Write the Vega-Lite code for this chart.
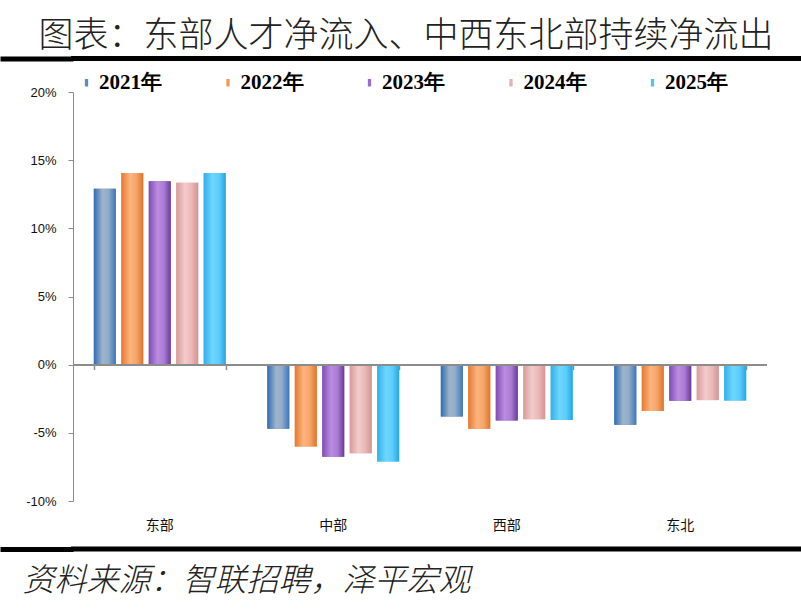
{
  "$schema": "https://vega.github.io/schema/vega-lite/v6.json",
  "padding": {"top": 18, "left": -5, "right": 0, "bottom": 0},
  "background": "white",
  "title": {
    "text": "图表：东部人才净流入、中西东北部持续净流出",
    "font": "Noto Sans CJK SC",
    "fontSize": 35,
    "fontWeight": 300,
    "color": "#222222",
    "anchor": "start",
    "dx": 43,
    "offset": 0
  },
  "columns": 1,
  "spacing": 11.5,
  "align": "none",
  "concat": [
    {
      "columns": 1,
      "spacing": 22,
      "align": "none",
      "concat": [
        {
          "width": 728,
          "height": 1,
          "data": {"values": [{"v": 0.5}]},
          "mark": {"type": "point", "opacity": 0},
          "encoding": {
            "y": {
              "field": "v",
              "type": "quantitative",
              "scale": {"domain": [0, 1]},
              "axis": {
                "title": null,
                "values": [0.5],
                "labels": false,
                "domain": false,
                "grid": false,
                "tickSize": 73,
                "tickWidth": 5,
                "tickColor": "black",
                "tickRound": false,
                "minExtent": 73,
                "maxExtent": 73
              }
            }
          },
          "view": {"fill": "black", "stroke": "black", "strokeWidth": 4}
        },
        {
          "width": 694,
          "height": 409,
          "data": {
            "values": [
              {"region": "东部", "year": "2021年", "value": 12.9},
              {"region": "东部", "year": "2022年", "value": 14.05},
              {"region": "东部", "year": "2023年", "value": 13.45},
              {"region": "东部", "year": "2024年", "value": 13.35},
              {"region": "东部", "year": "2025年", "value": 14.05},
              {"region": "中部", "year": "2021年", "value": -4.7},
              {"region": "中部", "year": "2022年", "value": -6.0},
              {"region": "中部", "year": "2023年", "value": -6.75},
              {"region": "中部", "year": "2024年", "value": -6.5},
              {"region": "中部", "year": "2025年", "value": -7.1},
              {"region": "西部", "year": "2021年", "value": -3.8},
              {"region": "西部", "year": "2022年", "value": -4.7},
              {"region": "西部", "year": "2023年", "value": -4.1},
              {"region": "西部", "year": "2024年", "value": -4.0},
              {"region": "西部", "year": "2025年", "value": -4.05},
              {"region": "东北", "year": "2021年", "value": -4.4},
              {"region": "东北", "year": "2022年", "value": -3.4},
              {"region": "东北", "year": "2023年", "value": -2.65},
              {"region": "东北", "year": "2024年", "value": -2.6},
              {"region": "东北", "year": "2025年", "value": -2.63}
            ]
          },
          "view": {"stroke": null},
          "layer": [
            {
              "encoding": {
                "x": {
                  "field": "region",
                  "type": "nominal",
                  "sort": ["东部", "中部", "西部", "东北"],
                  "scale": {"paddingInner": 0.24, "paddingOuter": 0.12},
                  "axis": {
                    "title": null,
                    "orient": "bottom",
                    "domain": false,
                    "ticks": false,
                    "labelAngle": 0,
                    "labelPadding": 17,
                    "labelFont": "Noto Sans CJK SC",
                    "labelFontSize": 14,
                    "labelColor": "#111111"
                  }
                },
                "xOffset": {
                  "field": "year",
                  "type": "nominal",
                  "scale": {
                    "domain": ["2021年", "2022年", "2023年", "2024年", "2025年"],
                    "paddingInner": 0.2,
                    "paddingOuter": 0
                  }
                },
                "y": {
                  "field": "value",
                  "type": "quantitative",
                  "scale": {"domain": [-10, 20], "nice": false, "zero": false},
                  "axis": {
                    "title": null,
                    "values": [-10, -5, 0, 5, 10, 15, 20],
                    "labelExpr": "datum.value + '%'",
                    "grid": false,
                    "domainColor": "#8c8c8c",
                    "tickColor": "#8c8c8c",
                    "tickSize": 5,
                    "labelPadding": 12,
                    "minExtent": 73,
                    "maxExtent": 73,
                    "labelFont": "Liberation Sans",
                    "labelFontSize": 13,
                    "labelColor": "#111111"
                  }
                }
              },
              "layer": [
                {
                  "mark": {"type": "bar"},
                  "encoding": {
                    "color": {
                      "field": "year",
                      "type": "nominal",
                      "scale": {
                        "domain": ["2021年", "2022年", "2023年", "2024年", "2025年"],
                        "range": ["#5b8cc4", "#f29a55", "#9b6cc9", "#e6b2b1", "#4cc4f4"]
                      },
                      "legend": {
                        "title": null,
                        "orient": "none",
                        "legendX": 3,
                        "legendY": 14,
                        "direction": "horizontal",
                        "columns": 5,
                        "columnPadding": 55.5,
                        "symbolType": "M-0.22,-0.5H0.22V0.5H-0.22Z",
                        "symbolSize": 225,
                        "symbolStrokeWidth": 0,
                        "symbolOpacity": 1,
                        "labelOffset": 2,
                        "labelFont": "Liberation Serif",
                        "labelFontWeight": "bold",
                        "labelFontSize": 21,
                        "labelColor": "#000000"
                      }
                    }
                  }
                },
                {
                  "transform": [{"filter": "datum.year == '2021年'"}],
                  "mark": {"type": "bar", "color": {"gradient": "linear", "x1": 0, "y1": 0, "x2": 1, "y2": 0, "stops": [
                    {"offset": 0, "color": "#2f6cb3"}, {"offset": 0.4, "color": "#9fb4c9"},
                    {"offset": 0.65, "color": "#93adc9"}, {"offset": 1, "color": "#3c76bb"}]}}
                },
                {
                  "transform": [{"filter": "datum.year == '2022年'"}],
                  "mark": {"type": "bar", "color": {"gradient": "linear", "x1": 0, "y1": 0, "x2": 1, "y2": 0, "stops": [
                    {"offset": 0, "color": "#e6782e"}, {"offset": 0.4, "color": "#fbb57f"},
                    {"offset": 0.7, "color": "#f5a468"}, {"offset": 1, "color": "#de7429"}]}}
                },
                {
                  "transform": [{"filter": "datum.year == '2023年'"}],
                  "mark": {"type": "bar", "color": {"gradient": "linear", "x1": 0, "y1": 0, "x2": 1, "y2": 0, "stops": [
                    {"offset": 0, "color": "#7e4cb5"}, {"offset": 0.4, "color": "#bb8ddf"},
                    {"offset": 0.7, "color": "#a97bd4"}, {"offset": 1, "color": "#6a3a98"}]}}
                },
                {
                  "transform": [{"filter": "datum.year == '2024年'"}],
                  "mark": {"type": "bar", "color": {"gradient": "linear", "x1": 0, "y1": 0, "x2": 1, "y2": 0, "stops": [
                    {"offset": 0, "color": "#d99a9a"}, {"offset": 0.4, "color": "#f2cccb"},
                    {"offset": 0.7, "color": "#e9b8b7"}, {"offset": 1, "color": "#d39494"}]}}
                },
                {
                  "transform": [{"filter": "datum.year == '2025年'"}],
                  "mark": {"type": "bar", "color": {"gradient": "linear", "x1": 0, "y1": 0, "x2": 1, "y2": 0, "stops": [
                    {"offset": 0, "color": "#2fb0e8"}, {"offset": 0.4, "color": "#6fd6fd"},
                    {"offset": 0.7, "color": "#5ccdfb"}, {"offset": 1, "color": "#25a6e3"}]}}
                }
              ]
            },
            {
              "mark": {"type": "rule", "color": "#8c8c8c", "strokeWidth": 1.5},
              "encoding": {"y": {"datum": 0}}
            },
            {
              "mark": {"type": "point", "opacity": 0},
              "encoding": {
                "x": {
                  "field": "region",
                  "type": "nominal",
                  "sort": ["东部", "中部", "西部", "东北"],
                  "axis": {
                    "title": null,
                    "orient": "top",
                    "offset": -272.67,
                    "domain": false,
                    "labels": false,
                    "tickBand": "extent",
                    "tickColor": "#8c8c8c",
                    "tickSize": -5,
                    "tickWidth": 1.5
                  }
                }
              }
            }
          ],
          "resolve": {"axis": {"x": "independent"}}
        }
      ]
    },
    {
      "width": 728,
      "height": 1,
      "data": {"values": [{"v": 0.5}]},
      "mark": {"type": "point", "opacity": 0},
      "encoding": {
        "y": {
          "field": "v",
          "type": "quantitative",
          "scale": {"domain": [0, 1]},
          "axis": {
            "title": null,
            "values": [0.5],
            "labels": false,
            "domain": false,
            "grid": false,
            "tickSize": 73,
            "tickWidth": 5,
            "tickColor": "black",
            "tickRound": false,
            "minExtent": 73,
            "maxExtent": 73
          }
        }
      },
      "view": {"fill": "black", "stroke": "black", "strokeWidth": 4},
      "title": {
        "text": "资料来源：智联招聘，泽平宏观",
        "orient": "bottom",
        "anchor": "start",
        "dx": 25,
        "offset": 14.5,
        "font": "Noto Sans CJK SC",
        "fontSize": 32,
        "fontWeight": 300,
        "fontStyle": "italic",
        "color": "#222222"
      }
    }
  ],
  "config": {"view": {"stroke": null}}
}
